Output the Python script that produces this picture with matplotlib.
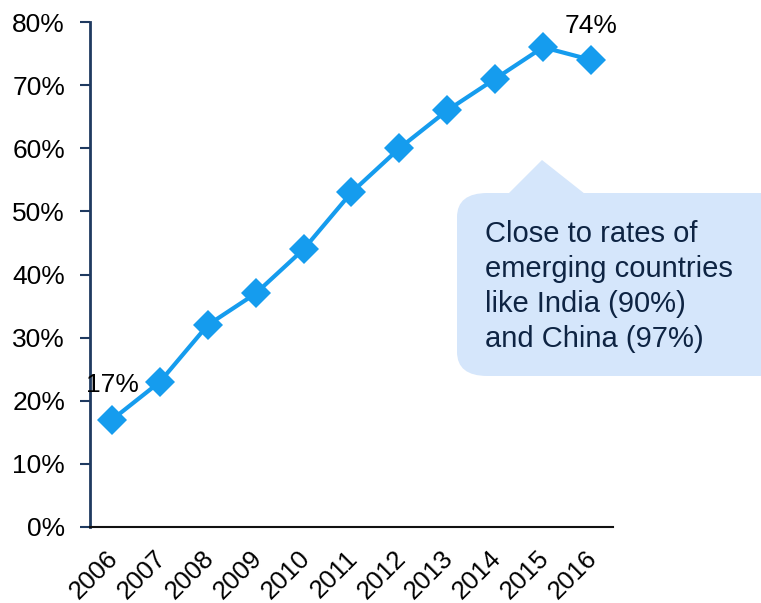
import matplotlib.pyplot as plt
import matplotlib.transforms as mtransforms
from matplotlib.patches import FancyBboxPatch, Polygon

years = ['2006', '2007', '2008', '2009', '2010', '2011', '2012', '2013', '2014', '2015', '2016']
rates = [17, 23, 32, 37, 44, 53, 60, 66, 71, 76, 74]
yticks = [0, 10, 20, 30, 40, 50, 60, 70, 80]
note = 'Close to rates of\nemerging countries\nlike India (90%)\nand China (97%)'

W, H = 761, 603
plt.rcParams['font.family'] = ['Liberation Sans', 'DejaVu Sans']

def px(x, y):
    return (x / W, 1 - y / H)

fig = plt.figure(figsize=(W / 100, H / 100), dpi=100)
ax = fig.add_axes([90 / W, 1 - 527 / H, (613 - 90) / W, (527 - 22) / H])

pos = list(range(len(years)))
ax.plot(pos, rates, color='#159CEE', lw=3, marker='D', markersize=15,
        markeredgewidth=0, zorder=3, clip_on=False)

ax.annotate('17%', (pos[0], rates[0]), xytext=(0, 16), textcoords='offset points',
            ha='center', va='bottom', fontsize=19)
ax.annotate('74%', (pos[-1], rates[-1]), xytext=(0, 16), textcoords='offset points',
            ha='center', va='bottom', fontsize=19)

ax.set_xlim(-0.46, 10.46)
ax.set_ylim(0, 80)
ax.set_yticks(yticks)
ax.set_yticklabels([f'{v}%' for v in yticks], fontsize=19)
ax.set_xticks(pos)
ax.set_xticklabels(years, fontsize=18.5, rotation=45, ha='right', va='top',
                   rotation_mode='anchor')
ax.tick_params(axis='x', length=0, pad=14)
ax.tick_params(axis='y', length=7, width=1.5, color='#1F3A60', pad=11)
shift = mtransforms.ScaledTranslation(-6 / 100, 0, fig.dpi_scale_trans)
for lab in ax.get_xticklabels():
    lab.set_transform(lab.get_transform() + shift)

ax.spines['top'].set_visible(False)
ax.spines['right'].set_visible(False)
ax.spines['left'].set_color('#1F3A60')
ax.spines['left'].set_linewidth(2)
ax.spines['bottom'].set_color('#111111')
ax.spines['bottom'].set_linewidth(1.5)

# callout box
bx0, by0 = px(457, 376)
bx1, by1 = px(790, 193)
box = FancyBboxPatch((bx0, by0), bx1 - bx0, by1 - by0,
                     boxstyle='round,pad=0,rounding_size=0.04',
                     transform=fig.transFigure, facecolor='#D5E6FB',
                     edgecolor='none', zorder=1)
fig.patches.append(box)
tri = Polygon([px(508, 194), px(542, 160), px(585, 194)], closed=True,
              transform=fig.transFigure, facecolor='#D5E6FB', edgecolor='none')
fig.patches.append(tri)
tx, ty = px(485, 220)
fig.text(tx, ty, note, fontsize=21, color='#0E2443', ha='left', va='top',
         linespacing=1.32)

fig.savefig('out.png', dpi=100)
